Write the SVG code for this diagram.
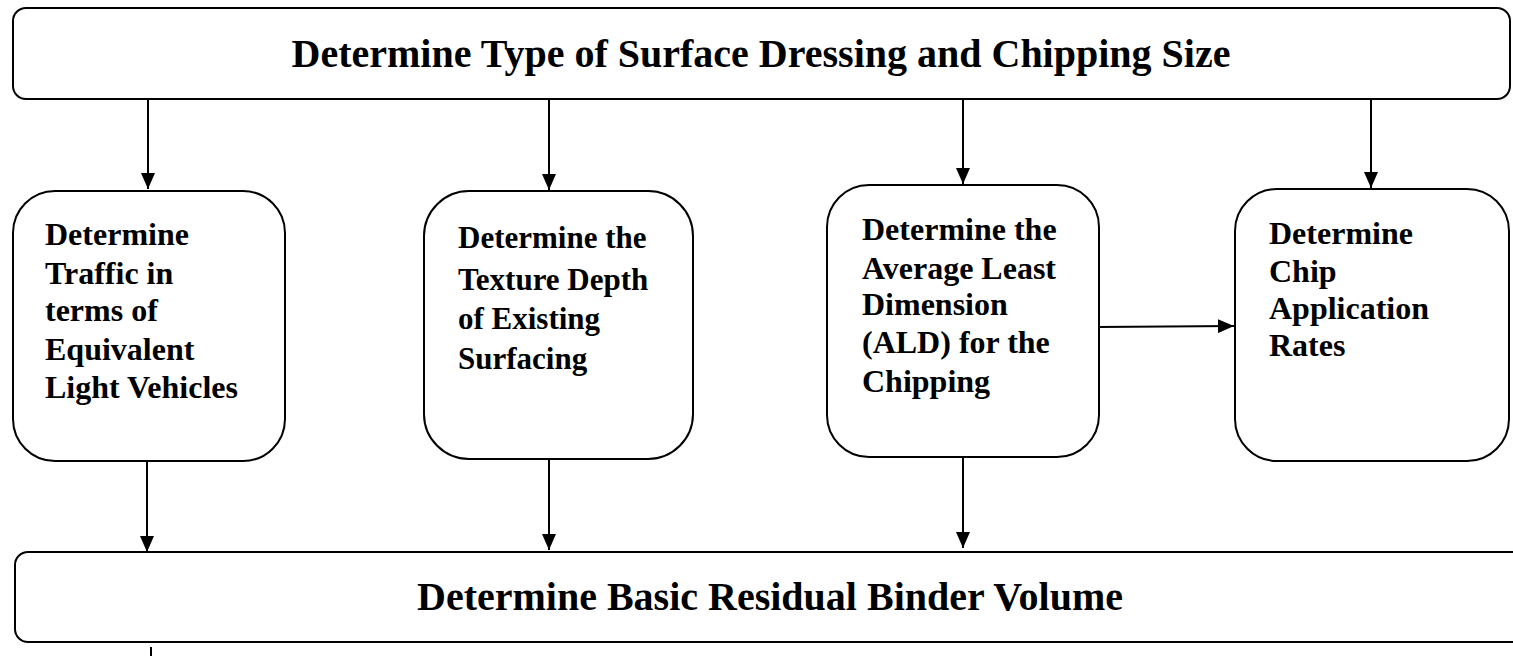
<svg xmlns="http://www.w3.org/2000/svg" width="1513" height="656" viewBox="0 0 1513 656">
  <style>
    .box { fill: #ffffff; stroke: #000000; stroke-width: 2; }
    .title { font-family: "Liberation Serif", "Times New Roman", serif; font-weight: bold; font-size: 40px; fill: #000000; text-anchor: middle; }
    .label { font-family: "Liberation Serif", "Times New Roman", serif; font-weight: bold; font-size: 32px; fill: #000000; }
    .label.narrow { font-size: 31px; }
    .conn { stroke: #000000; stroke-width: 2; fill: none; }
  </style>
  <defs>
    <marker id="arrow" viewBox="0 0 16 14" refX="16" refY="7" markerWidth="16" markerHeight="14" markerUnits="userSpaceOnUse" orient="auto">
      <path d="M0,0 L16,7 L0,14 Z" fill="#000000"/>
    </marker>
  </defs>
  <rect width="1513" height="656" fill="#ffffff"/>

  <g id="top">
    <rect class="box" x="13" y="8" width="1497" height="91" rx="13" ry="13"/>
    <text class="title" x="761" y="67">Determine Type of Surface Dressing and Chipping Size</text>
  </g>

  <g id="traffic">
    <rect class="box" x="13" y="191" width="272" height="270" rx="42" ry="42"/>
    <text class="label" x="45" y="245">Determine</text>
    <text class="label" x="45" y="284">Traffic  in</text>
    <text class="label" x="45" y="321">terms of</text>
    <text class="label" x="45" y="360">Equivalent</text>
    <text class="label" x="45" y="398">Light Vehicles</text>
  </g>

  <g id="texture">
    <rect class="box" x="424" y="191" width="269" height="268" rx="45" ry="45" stroke-width="2.5"/>
    <text class="label narrow" x="458" y="248">Determine the</text>
    <text class="label narrow" x="458" y="290">Texture Depth</text>
    <text class="label narrow" x="458" y="329">of Existing</text>
    <text class="label narrow" x="458" y="369">Surfacing</text>
  </g>

  <g id="ald">
    <rect class="box" x="827" y="185" width="272" height="272" rx="42" ry="42"/>
    <text class="label" x="862" y="240">Determine the</text>
    <text class="label" x="862" y="279">Average Least</text>
    <text class="label" x="862" y="315">Dimension</text>
    <text class="label" x="862" y="353">(ALD) for the</text>
    <text class="label" x="862" y="392">Chipping</text>
  </g>

  <g id="chip">
    <rect class="box" x="1235" y="189" width="274" height="272" rx="42" ry="42"/>
    <text class="label" x="1269" y="244">Determine</text>
    <text class="label" x="1269" y="282">Chip</text>
    <text class="label" x="1269" y="319">Application</text>
    <text class="label" x="1269" y="356">Rates</text>
  </g>

  <g id="binder">
    <rect class="box" x="15" y="552" width="1510" height="90" rx="13" ry="13"/>
    <text class="title" x="770" y="610">Determine Basic Residual Binder Volume</text>
  </g>

  <g id="connectors">
    <line class="conn" x1="148" y1="99" x2="148" y2="189" marker-end="url(#arrow)"/>
    <line class="conn" x1="549" y1="99" x2="549" y2="190" marker-end="url(#arrow)"/>
    <line class="conn" x1="963" y1="99" x2="963" y2="184" marker-end="url(#arrow)"/>
    <line class="conn" x1="1371" y1="99" x2="1371" y2="188" marker-end="url(#arrow)"/>
    <line class="conn" x1="1098" y1="327" x2="1234" y2="326" marker-end="url(#arrow)"/>
    <line class="conn" x1="147" y1="461" x2="147" y2="552" marker-end="url(#arrow)"/>
    <line class="conn" x1="549" y1="459" x2="549" y2="550" marker-end="url(#arrow)"/>
    <line class="conn" x1="963" y1="457" x2="963" y2="548" marker-end="url(#arrow)"/>
    <line class="conn" x1="151" y1="647" x2="151" y2="656"/>
  </g>
</svg>
